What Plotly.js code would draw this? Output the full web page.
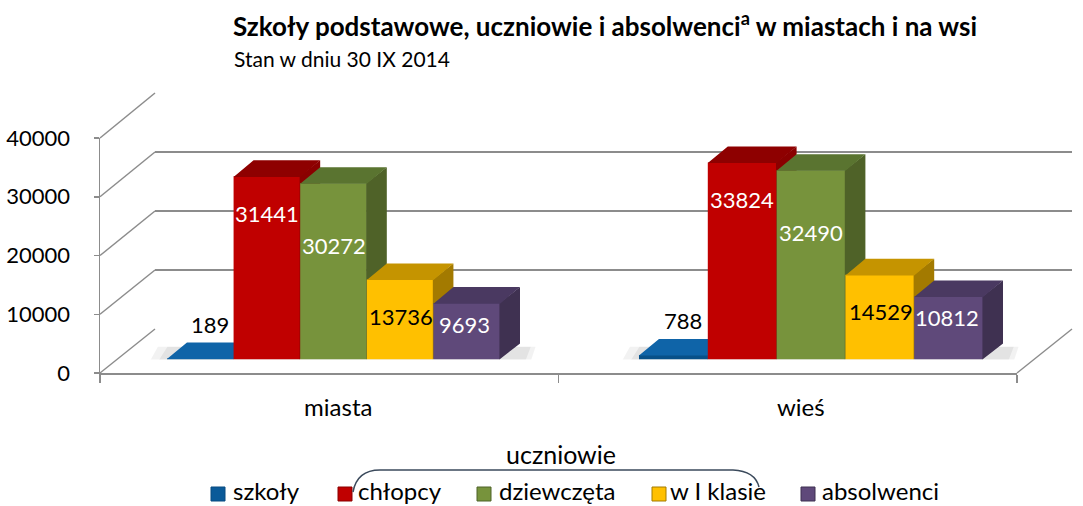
<!DOCTYPE html>
<html><head><meta charset="utf-8">
<script src="https://cdn.plot.ly/plotly-3.0.1.min.js"></script>
<style>html,body{margin:0;padding:0;background:#fff;} #chart{width:1083px;height:506px;}</style>
</head><body><div id="chart"></div>
<script>
// ---------- DATA ----------
const categories = ['miasta', 'wieś'];
const seriesNames = ['szkoły', 'chłopcy', 'dziewczęta', 'w I klasie', 'absolwenci'];
const szkoly = [189, 788];
const chlopcy = [31441, 33824];
const dziewczeta = [30272, 32490];
const wIKlasie = [13736, 14529];
const absolwenci = [9693, 10812];
const yTickValues = [0, 10000, 20000, 30000, 40000];
const yTickLabels = ['0', '10000', '20000', '30000', '40000'];
const titleText = 'Szkoły podstawowe, uczniowie i absolwenci<sup>a</sup> w miastach i na wsi';
const subtitleText = 'Stan w dniu 30 IX 2014';
const bracketText = 'uczniowie';
const seriesValues = [szkoly, chlopcy, dziewczeta, wIKlasie, absolwenci];

// ---------- STYLE / GEOMETRY ----------
const W = 1083, H = 506;
const PX = x => x / W;
const PY = y => 1 - y / H;
const FONT = 'Lato, "Open Sans", sans-serif';
const YMAX = 40000;
const FRONT = {left: 100, right: 1017, y0: 373, yTop: 138};
const BACK = {left: 155, right: 1072, y0: 329, yTop: 93};
const PLANE = {left: 94.75, right: 1049.75, y0: 359.5, yTop: 126.5};
const BAR_W = [0.1395, 0.1441];
const pxPerUnitX = (PLANE.right - PLANE.left) / 2;
const pxPerUnitY = (PLANE.y0 - PLANE.yTop) / YMAX;
const DX = 20 / pxPerUnitX;
const DY = 16 / pxPerUnitY;
const EPSX = 0.6 / pxPerUnitX, EPSY = 0.6 / pxPerUnitY;
const FRONT_COLORS = ['#0a5a99', '#c00000', '#77933c', '#ffc000', '#5f497a'];
const TOP_COLORS = ['#0f64a8', '#8e0000', '#5a7430', '#c59400', '#4a3961'];
const SIDE_COLORS = ['#084a80', '#8a0000', '#4f6228', '#a37a00', '#3f3151'];
const LABEL_COLORS = ['#000000', '#ffffff', '#ffffff', '#000000', '#ffffff'];
const LABEL_DX = [10, 0, 0, 1, -2];
const LABEL_DY = [34, -37, -62, -37, -21];
const LEG_SQ_X = [211, 338, 477, 652, 801];
const LEG_TXT_X = [231, 356, 497, 668, 820];
const GRID = '#8c8c8c';

const traces = [];
const blank = (xa, ya) => ({type: 'scatter', x: [], y: [], xaxis: xa, yaxis: ya, showlegend: false, hoverinfo: 'skip'});
traces.push(blank('x', 'y'));
traces.push(blank('x2', 'y2'));
traces.push(blank('x8', 'y2'));

const annotations = [];
const shapes = [];

seriesValues.forEach((vals, i) => {
  const xa = 'x' + (3 + i), ya = 'y' + (3 + i);
  if (i === 0) {
    // soft floor shadow under each group
    [[0.05, 0.04, 900], [0.06, 0.02, 500]].forEach(([op, pad, drop]) => {
      const sx = [], sy = [];
      categories.forEach((_, c) => {
        const l = c - 2.5 * BAR_W[c] - pad;
        const r = c + 2.5 * BAR_W[c] + DX + pad * 0.5;
        sx.push(l, r, r + DX * 0.3, l + DX * 0.5, l, null);
        sy.push(-drop, -drop, DY * 0.8, DY * 0.8, -drop, null);
      });
      traces.push({type: 'scatter', mode: 'lines', x: sx, y: sy, fill: 'toself',
        fillcolor: 'rgba(0,0,0,' + op + ')', line: {width: 0}, xaxis: xa, yaxis: ya,
        showlegend: false, hoverinfo: 'skip'});
    });
  }
  traces.push({
    type: 'bar', name: seriesNames[i], x: [0, 1], y: vals,
    width: BAR_W, offset: BAR_W.map(w => (i - 2.5) * w),
    marker: {color: FRONT_COLORS[i], line: {width: 0}},
    xaxis: xa, yaxis: ya, showlegend: false, hoverinfo: 'skip'
  });
  const tx = [], ty = [], sx = [], sy = [];
  vals.forEach((v, c) => {
    const x0 = c + (i - 2.5) * BAR_W[c];
    const x1 = x0 + BAR_W[c];
    tx.push(x0, x1, x1 + DX, x0 + DX, x0, null);
    ty.push(v - EPSY, v - EPSY, v + DY, v + DY, v - EPSY, null);
    sx.push(x1 - EPSX, x1 - EPSX, x1 + DX, x1 + DX, x1 - EPSX, null);
    sy.push(0, v, v + DY, DY, 0, null);
    annotations.push({
      x: x0 + BAR_W[c] / 2, y: v, xref: 'x3', yref: 'y3', text: String(v),
      showarrow: false, xshift: LABEL_DX[i], yshift: LABEL_DY[i],
      xanchor: 'center', yanchor: 'middle',
      font: {family: FONT, size: 22, color: LABEL_COLORS[i]}
    });
  });
  traces.push({type: 'scatter', mode: 'lines', x: sx, y: sy, fill: 'toself',
    fillcolor: SIDE_COLORS[i], line: {width: 0}, xaxis: xa, yaxis: ya, showlegend: false, hoverinfo: 'skip'});
  traces.push({type: 'scatter', mode: 'lines', x: tx, y: ty, fill: 'toself',
    fillcolor: TOP_COLORS[i], line: {width: 0}, xaxis: xa, yaxis: ya, showlegend: false, hoverinfo: 'skip'});

  // custom legend entry
  shapes.push({type: 'rect', xref: 'paper', yref: 'paper',
    x0: PX(LEG_SQ_X[i]), x1: PX(LEG_SQ_X[i] + 14), y0: PY(501), y1: PY(487),
    fillcolor: FRONT_COLORS[i], line: {color: SIDE_COLORS[i], width: 1}});
  annotations.push({x: PX(LEG_TXT_X[i]), y: PY(490), xref: 'paper', yref: 'paper',
    text: seriesNames[i], showarrow: false, xanchor: 'left', yanchor: 'middle',
    font: {family: FONT, size: 24, color: '#000'}});
});

// 3D frame: diagonals from front axis to back wall
const yFront = v => FRONT.y0 - v * (FRONT.y0 - FRONT.yTop) / YMAX;
const yBack = v => BACK.y0 - v * (BACK.y0 - BACK.yTop) / YMAX;
yTickValues.forEach(v => {
  shapes.push({type: 'line', xref: 'paper', yref: 'paper', layer: 'below',
    x0: PX(FRONT.left), y0: PY(yFront(v)), x1: PX(BACK.left), y1: PY(yBack(v)),
    line: {color: GRID, width: 1.5}});
});
shapes.push({type: 'line', xref: 'paper', yref: 'paper', layer: 'below',
  x0: PX(FRONT.right), y0: PY(FRONT.y0), x1: PX(BACK.right), y1: PY(BACK.y0),
  line: {color: GRID, width: 1.5}});

// bracket over "uczniowie"
shapes.push({type: 'path', xref: 'paper', yref: 'paper',
  path: `M ${PX(353)},${PY(492)} Q ${PX(357)},${PY(470)} ${PX(380)},${PY(470)} L ${PX(733)},${PY(470)} Q ${PX(755)},${PY(471)} ${PX(759)},${PY(487)}`,
  line: {color: '#3b4a5c', width: 1.5}});
annotations.push({x: PX(561), y: PY(454), xref: 'paper', yref: 'paper', text: bracketText,
  showarrow: false, xanchor: 'center', yanchor: 'middle', font: {family: FONT, size: 25, color: '#000'}});
annotations.push({x: PX(232), y: PY(58), xref: 'paper', yref: 'paper', text: subtitleText,
  showarrow: false, xanchor: 'left', yanchor: 'middle', font: {family: FONT, size: 21, color: '#000'}});

const layout = {
  width: W, height: H,
  margin: {l: 0, r: 0, t: 0, b: 0, pad: 0},
  paper_bgcolor: '#ffffff', plot_bgcolor: 'rgba(0,0,0,0)',
  barmode: 'overlay', showlegend: false,
  title: {text: titleText, x: PX(233), xanchor: 'left', xref: 'container',
    y: PY(27), yanchor: 'middle', yref: 'container',
    font: {family: FONT, size: 26, weight: 'bold', color: '#000'}},
  // back wall (gridlines)
  xaxis: {domain: [PX(BACK.left), PX(BACK.right)], range: [-0.5, 1.5], visible: false, anchor: 'y'},
  yaxis: {domain: [PY(BACK.y0), PY(BACK.yTop)], range: [0, YMAX], anchor: 'x',
    tickvals: yTickValues, showticklabels: false, ticks: '', showline: false, zeroline: false,
    showgrid: true, gridcolor: GRID, gridwidth: 1.5},
  // front axes
  xaxis2: {domain: [PX(FRONT.left), PX(FRONT.right)], range: [-0.5, 1.5], anchor: 'y2',
    tickvals: [-0.5, 0.5, 1.5], showticklabels: false, ticks: 'outside', ticklen: 8,
    tickwidth: 1.5, tickcolor: GRID, showline: true, linecolor: GRID, linewidth: 1.5,
    showgrid: false, zeroline: false},
  yaxis2: {domain: [PY(FRONT.y0), PY(FRONT.yTop)], range: [0, YMAX], anchor: 'x2',
    tickvals: yTickValues, ticktext: yTickLabels, ticks: 'outside', ticklen: 5, tickwidth: 1.5, tickcolor: GRID,
    showline: true, linecolor: GRID, linewidth: 1.5, showgrid: false, zeroline: false,
    ticklabelstandoff: 19, tickfont: {family: FONT, size: 22, color: '#000'}},
  // category labels
  xaxis8: {domain: [PX(107), PX(1032)], range: [-0.5, 1.5], anchor: 'y2',
    tickvals: [0, 1], ticktext: categories, ticks: '', showline: false, showgrid: false,
    zeroline: false, ticklabelstandoff: 18, tickfont: {family: FONT, size: 24, color: '#000'}},
  shapes: shapes,
  annotations: annotations
};
for (let i = 0; i < 5; i++) {
  layout['xaxis' + (3 + i)] = {domain: [PX(PLANE.left), PX(PLANE.right)], range: [-0.5, 1.5],
    visible: false, anchor: 'y' + (3 + i)};
  layout['yaxis' + (3 + i)] = {domain: [PY(PLANE.y0), PY(PLANE.yTop)], range: [0, YMAX],
    visible: false, anchor: 'x' + (3 + i)};
}

Plotly.newPlot('chart', traces, layout, {displayModeBar: false, staticPlot: true});
</script>
</body></html>
